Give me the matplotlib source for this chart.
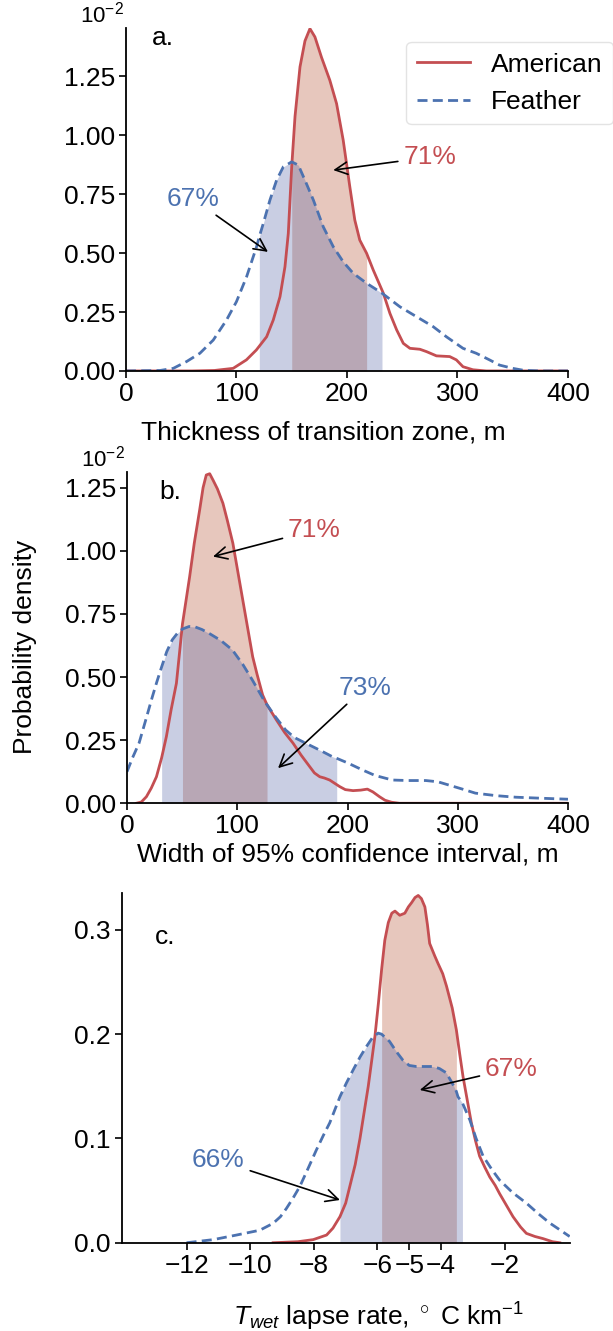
import matplotlib
matplotlib.use('Agg')
import matplotlib.pyplot as plt
from matplotlib.ticker import FuncFormatter, FixedLocator
import numpy as np

plt.rcParams['font.family'] = ['Liberation Sans', 'DejaVu Sans']
plt.rcParams['mathtext.fontset'] = 'custom'
plt.rcParams['mathtext.rm'] = 'Liberation Sans'
plt.rcParams['mathtext.it'] = 'Liberation Sans:italic'
plt.rcParams['font.size'] = 19

RED = '#C44E52'
BLUE = '#4C72B0'
RED_FILL = (178 / 255, 72 / 255, 38 / 255)
BLUE_FILL = (78 / 255, 95 / 255, 165 / 255)
FS = 19

# ---- a. thickness of transition zone (density in units of 1e-2)
a_am_x = np.array([0, 60, 80, 97, 109, 118, 127.3, 133.3, 139.4, 143.9, 146.9, 150, 153,
                   157.5, 162, 166.5, 171, 177, 184.5, 190.6, 196.6, 202.6, 207.1,
                   211.6, 217.8, 223.8, 232.9, 238.9, 245, 251, 257, 266, 272, 281,
                   293, 299, 305, 314, 326, 400])
a_am_y = np.array([0, 0, 0.002, 0.011, 0.047, 0.089, 0.145, 0.216, 0.315, 0.442, 0.583,
                   0.866, 1.08, 1.29, 1.40, 1.452, 1.417, 1.33, 1.233, 1.134, 0.979,
                   0.781, 0.64, 0.555, 0.499, 0.428, 0.33, 0.244, 0.174, 0.117, 0.096,
                   0.092, 0.082, 0.064, 0.061, 0.047, 0.018, 0.005, 0, 0])
a_fe_x = np.array([0, 30.8, 42.8, 54.9, 66.9, 79, 91, 100, 109.2, 118.2, 120.7, 124.3,
                   130.3, 136.3, 142.4, 150, 156, 162, 169.6, 178.6, 187.6, 196.6,
                   205.7, 217.8, 231.7, 248, 263, 278, 290, 305, 317, 329, 338, 350,
                   359.5, 374.6, 400])
a_fe_y = np.array([0, 0.002, 0.011, 0.04, 0.075, 0.131, 0.216, 0.294, 0.4, 0.527, 0.57,
                   0.626, 0.725, 0.809, 0.866, 0.887, 0.873, 0.809, 0.725, 0.611, 0.527,
                   0.463, 0.414, 0.372, 0.33, 0.272, 0.23, 0.188, 0.145, 0.096, 0.075,
                   0.047, 0.025, 0.011, 0.003, 0, 0])
a_am_ci = (150, 217.8)
a_fe_ci = (120.7, 231.7)

# ---- b. width of 95% confidence interval (density in units of 1e-2)
b_am_x = np.array([8.5, 13, 17.6, 22, 26.7, 31.4, 35.7, 40, 44.8, 50.3, 56.8, 61, 65.9,
                   69, 71.9, 75, 78, 82, 87, 91, 96, 100, 105, 110, 114, 118, 123, 127,
                   135.5, 143, 150.6, 158, 165.7, 170, 174.8, 179, 183.8, 188, 192.9,
                   198, 205, 212, 218, 223, 229, 234, 240, 247, 400])
b_am_y = np.array([0, 0.005, 0.026, 0.06, 0.105, 0.18, 0.264, 0.37, 0.475, 0.71, 0.897,
                   1.03, 1.162, 1.25, 1.30, 1.305, 1.28, 1.245, 1.188, 1.12, 1.03, 0.93,
                   0.805, 0.68, 0.58, 0.51, 0.429, 0.39, 0.33, 0.28, 0.238, 0.19, 0.145,
                   0.12, 0.105, 0.1, 0.092, 0.08, 0.066, 0.054, 0.05, 0.052, 0.056,
                   0.045, 0.026, 0.012, 0.004, 0, 0])
b_fe_x = np.array([0, 5, 10.9, 17, 23, 27, 31.4, 36, 41, 46, 50.3, 56.3, 62, 68, 74.4,
                   85, 95.6, 105, 113.7, 120, 125.8, 127, 135, 143.9, 152, 162, 175,
                   186, 190.2, 200, 213.5, 225, 240.7, 255, 271, 282, 292, 305, 316,
                   335, 352.5, 375, 400])
b_fe_y = np.array([0.125, 0.18, 0.238, 0.33, 0.422, 0.48, 0.54, 0.6, 0.647, 0.675, 0.69,
                   0.70, 0.698, 0.688, 0.673, 0.645, 0.607, 0.55, 0.488, 0.44, 0.396,
                   0.39, 0.34, 0.29, 0.26, 0.238, 0.21, 0.185, 0.178, 0.16, 0.132, 0.11,
                   0.092, 0.09, 0.09, 0.085, 0.072, 0.055, 0.04, 0.03, 0.024, 0.02,
                   0.016])
b_am_ci = (50.3, 127)
b_fe_ci = (31.4, 190.2)

# ---- c. Twet lapse rate
c_am_x = np.array([-9.28, -8.5, -8.02, -7.6, -7.4, -7.18, -7.0, -6.87, -6.7, -6.55, -6.42,
                   -6.29, -6.18, -6.08, -5.97, -5.87, -5.77, -5.66, -5.55, -5.45, -5.3,
                   -5.14, -5.03, -4.93, -4.82, -4.72, -4.62, -4.51, -4.43, -4.36, -4.2,
                   -4.1, -3.95, -3.83, -3.65, -3.52, -3.42, -3.31, -3.18, -3.05, -2.92,
                   -2.79, -2.62, -2.47, -2.3, -2.16, -1.95, -1.74, -1.5, -1.32, -1.05,
                   -0.8, -0.5, -0.27])
c_am_y = np.array([0, 0.001, 0.003, 0.0074, 0.014, 0.025, 0.038, 0.054, 0.075, 0.10,
                   0.125, 0.15, 0.175, 0.198, 0.23, 0.262, 0.29, 0.307, 0.316, 0.318,
                   0.314, 0.316, 0.322, 0.326, 0.331, 0.333, 0.330, 0.322, 0.305, 0.287,
                   0.275, 0.268, 0.258, 0.246, 0.225, 0.204, 0.182, 0.159, 0.137, 0.115,
                   0.098, 0.083, 0.072, 0.063, 0.055, 0.047, 0.036, 0.025, 0.015, 0.009,
                   0.006, 0.004, 0.001, 0])
c_fe_x = np.array([-12, -11.16, -10.43, -9.7, -9.28, -9.05, -8.86, -8.65, -8.44, -8.2,
                   -7.92, -7.7, -7.5, -7.18, -6.98, -6.76, -6.55, -6.35, -6.15, -5.98,
                   -5.87, -5.62, -5.4, -5.2, -5.0, -4.78, -4.5, -4.26, -4.05, -3.84,
                   -3.65, -3.52, -3.47, -3.33, -3.1, -2.9, -2.68, -2.4, -2.16, -1.75,
                   -1.32, -0.95, -0.59, -0.25, 0.04])
c_fe_y = np.array([0, 0.003, 0.0074, 0.012, 0.0186, 0.025, 0.033, 0.043, 0.054, 0.07,
                   0.089, 0.103, 0.115, 0.14, 0.153, 0.166, 0.178, 0.188, 0.197, 0.201,
                   0.2, 0.193, 0.183, 0.175, 0.170, 0.169, 0.169, 0.169, 0.167, 0.163,
                   0.153, 0.145, 0.14, 0.134, 0.118, 0.1, 0.083, 0.07, 0.06, 0.048,
                   0.038, 0.028, 0.019, 0.012, 0.006])
c_am_ci = (-5.87, -3.52)
c_fe_ci = (-7.18, -3.33)

# percent of samples inside the shaded interval: (text, colour, text pos, arrow tip)
a_notes = [('71%', RED, (275, 0.907), (187.6, 0.852)),
           ('67%', BLUE, (60.6, 0.73), (128.5, 0.505))]
b_notes = [('71%', RED, (170, 1.082), (78, 0.977)),
           ('73%', BLUE, (215.6, 0.458), (137, 0.139))]
c_notes = [('67%', RED, (-1.79, 0.167), (-4.67, 0.1465)),
           ('66%', BLUE, (-11.0, 0.079), (-7.18, 0.041))]


def draw_panel(ax, am_x, am_y, fe_x, fe_y, am_ci, fe_ci, notes, letter, lpos):
    m = (am_x >= am_ci[0]) & (am_x <= am_ci[1])
    ax.fill_between(am_x[m], 0, am_y[m], color=RED_FILL, alpha=0.3, lw=0)
    m = (fe_x >= fe_ci[0]) & (fe_x <= fe_ci[1])
    ax.fill_between(fe_x[m], 0, fe_y[m], color=BLUE_FILL, alpha=0.3, lw=0)
    ax.plot(am_x, am_y, color=RED, lw=2, label='American')
    ax.plot(fe_x, fe_y, color=BLUE, lw=2, ls=(0, (3.6, 1.9)), label='Feather')
    for txt, col, xt, xy in notes:
        ax.annotate(txt, xy=xy, xytext=xt, color=col, ha='center', va='center',
                    fontsize=FS,
                    arrowprops=dict(arrowstyle='->', color='k', lw=1.2,
                                    mutation_scale=22, shrinkA=2, shrinkB=0))
    ax.text(lpos[0], lpos[1], letter, transform=ax.transAxes, ha='center',
            va='center', fontsize=FS)
    for s in ['top', 'right']:
        ax.spines[s].set_visible(False)
    for s in ['left', 'bottom']:
        ax.spines[s].set_linewidth(1.3)
    ax.tick_params(direction='out', length=5, width=1.2, labelsize=FS, pad=3)


fig = plt.figure(figsize=(6.13, 13.31), dpi=100)
ax1 = fig.add_axes([0.2055, 0.7213, 0.721, 0.2577])
ax2 = fig.add_axes([0.2072, 0.3965, 0.7194, 0.2491])
ax3 = fig.add_axes([0.1985, 0.0663, 0.7313, 0.2625])

draw_panel(ax1, a_am_x, a_am_y, a_fe_x, a_fe_y, a_am_ci, a_fe_ci, a_notes, 'a.',
           (0.084, 0.971))
draw_panel(ax2, b_am_x, b_am_y, b_fe_x, b_fe_y, b_am_ci, b_fe_ci, b_notes, 'b.',
           (0.097, 0.939))
draw_panel(ax3, c_am_x, c_am_y, c_fe_x, c_fe_y, c_am_ci, c_fe_ci, c_notes, 'c.',
           (0.097, 0.875))

fmt2 = FuncFormatter(lambda v, p: f'{v:.2f}')
for ax, top in [(ax1, 1.455), (ax2, 1.313)]:
    ax.set_xlim(0, 400)
    ax.set_ylim(0, top)
    ax.set_xticks([0, 100, 200, 300, 400])
    ax.set_yticks([0, 0.25, 0.5, 0.75, 1.0, 1.25])
    ax.yaxis.set_major_formatter(fmt2)
    ax.text(-0.055, 1.0, r'$10^{-2}$', transform=ax.transAxes, ha='center',
            va='bottom', fontsize=16)

ax3.set_xlim(-14.04, 0.05)
ax3.set_ylim(0, 0.335)
ax3.xaxis.set_major_locator(FixedLocator([-12, -10, -8, -6, -5, -4, -2]))
ax3.set_yticks([0, 0.1, 0.2, 0.3])
ax3.yaxis.set_major_formatter(FuncFormatter(lambda v, p: f'{v:.1f}'))

ax1.set_xlabel('Thickness of transition zone, m', fontsize=FS)
ax1.xaxis.set_label_coords(0.447, -0.145)
ax2.set_xlabel('Width of 95% confidence interval, m', fontsize=FS, labelpad=3)
ax3.set_xlabel(r'$T_{wet}$ lapse rate, $^\circ$ C km$^{-1}$', fontsize=FS)
ax3.xaxis.set_label_coords(0.572, -0.165)
fig.text(0.04, 0.514, 'Probability density', rotation=90, ha='center',
         va='center', fontsize=FS)

leg = ax1.legend(loc='upper right', bbox_to_anchor=(1.0, 0.9684),
                 bbox_transform=fig.transFigure, borderaxespad=0, fontsize=FS,
                 handlelength=2.0, frameon=True, fancybox=True)
leg.get_frame().set_edgecolor('#dddddd')

fig.savefig('out.png', dpi=100)
